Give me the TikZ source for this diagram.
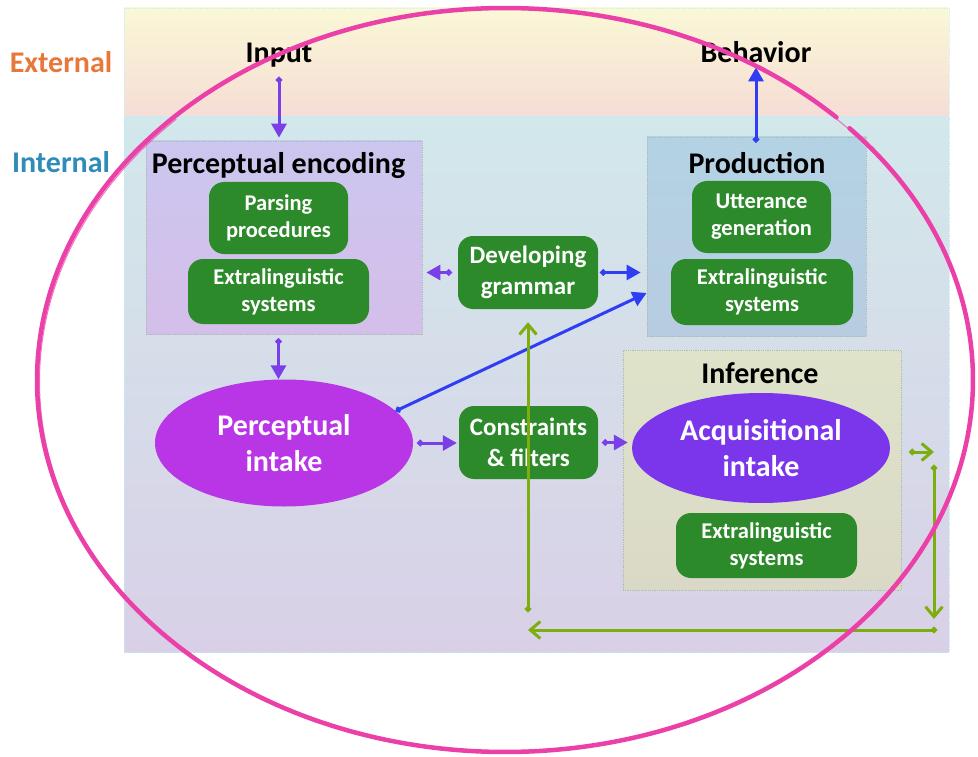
\documentclass[tikz,border=0pt]{standalone}
\usepackage{fontspec}
\setmainfont{Carlito}
\usetikzlibrary{arrows.meta,shapes.geometric,calc}

\definecolor{extTop}{HTML}{FAF8D6}
\definecolor{extBot}{HTML}{F6DDD6}
\definecolor{intTop}{HTML}{D2E8EB}
\definecolor{intMid}{HTML}{D5DBEC}
\definecolor{intBot}{HTML}{D9D0E7}
\definecolor{encTop}{HTML}{CBC7EE}
\definecolor{encBot}{HTML}{D4BEEA}
\definecolor{prodTop}{HTML}{B3D3E4}
\definecolor{prodBot}{HTML}{B8CCE1}
\definecolor{infTop}{HTML}{DFE3C9}
\definecolor{infBot}{HTML}{DAD9C7}
\definecolor{boxGreen}{HTML}{2D8A2B}
\definecolor{pIntake}{HTML}{B836E6}
\definecolor{aIntake}{HTML}{7B36EC}
\definecolor{arrPurple}{HTML}{7B3FE8}
\definecolor{arrBlue}{HTML}{2F3DF4}
\definecolor{arrGreen}{HTML}{7DAE0F}
\definecolor{extText}{HTML}{E8783A}
\definecolor{intText}{HTML}{2F8BB8}
\definecolor{ringPink}{HTML}{EB40A8}
\definecolor{panelEdge}{HTML}{A8BFB4}

\begin{document}
\begin{tikzpicture}[x=1pt,y=-1pt,
  head/.style={font=\bfseries\fontsize{30}{35}\selectfont, inner sep=0pt, anchor=base},
  panel/.style={draw=panelEdge, densely dotted, line width=0.8pt, inner sep=0pt},
  gbox/.style={rounded corners=15pt, fill=boxGreen, text=white, align=center,
    font=\bfseries\fontsize{22.5}{27}\selectfont, inner sep=0pt},
  gboxl/.style={gbox, font=\bfseries\fontsize{25}{31}\selectfont},
  intake/.style={ellipse, text=white, align=center, inner sep=0pt,
    font=\bfseries\fontsize{30}{36}\selectfont},
  parr/.style={draw=arrPurple, line width=3pt,
    {Circle[length=6pt]}-{Triangle[length=14pt,width=15pt]}},
  barr/.style={draw=arrBlue, line width=3pt,
    {Circle[length=6pt]}-{Triangle[length=14pt,width=15pt]}},
  garr/.style={draw=arrGreen, line width=3pt, line cap=round,
    {Circle[length=6pt]}-{Straight Barb[length=10pt,width=17pt,line width=3pt]}},
  ring/.style={draw=ringPink, line width=4.5pt, line cap=round}
]
\useasboundingbox (0,0) rectangle (978,757);
\fill[white] (0,0) rectangle (978,757);

% external and internal bands
\shade[top color=extTop, bottom color=extBot] (124,8) rectangle (949,117);
\shade[top color=intTop, middle color=intMid, bottom color=intBot] (124,117) rectangle (949,652);
\draw[white!80!cyan, densely dotted, line width=0.8pt] (124,8) rectangle (949,117);
\draw[white!75!cyan, densely dotted, line width=0.8pt] (124,117) rectangle (949,652);

\node[anchor=base, inner sep=0pt, text=extText, font=\bfseries\fontsize{30}{35}\selectfont] (extl) at (61,73) {External};
\node[anchor=base, inner sep=0pt, text=intText, font=\bfseries\fontsize{30}{35}\selectfont] (intl) at (61,173) {Internal};

% outer labels
\node[head] (input) at (279,63) {Input};
\node[head] (beh) at (756,63) {Behavior};

% panels
\node[panel, top color=encTop, bottom color=encBot, minimum width=276pt, minimum height=193pt] (enc) at (284,237.5) {};
\node[panel, top color=prodTop, bottom color=prodBot, minimum width=219pt, minimum height=199pt] (prod) at (756.5,236.5) {};
\node[panel, top color=infTop, bottom color=infBot, minimum width=278pt, minimum height=240pt] (inf) at (762,470) {};

\node[head] (encT) at (278.5,174) {Perceptual encoding};
\node[head] (prodT) at (757,174) {Production};
\node[head] (infT) at (760,383) {Inference};

% green boxes
\node[gbox, minimum width=139pt, minimum height=72pt] (parse) at (278.5,218) {Parsing\\procedures};
\node[gbox, minimum width=181pt, minimum height=65pt] (ext1) at (278.5,291.5) {Extralinguistic\\systems};
\node[gbox, minimum width=139pt, minimum height=72pt] (utter) at (761.5,217) {Utterance\\generation};
\node[gbox, minimum width=182pt, minimum height=66pt] (ext2) at (762,292) {Extralinguistic\\systems};
\node[gboxl, minimum width=140pt, minimum height=73pt] (dev) at (528,272.5) {Developing\\grammar};
\node[gboxl, minimum width=139pt, minimum height=73pt] (cons) at (528.5,442.5) {Constraints\\\& filters};
\node[gbox, minimum width=181pt, minimum height=65pt] (ext3) at (766.5,545.5) {Extralinguistic\\systems};

% intake ellipses
\node[intake, fill=pIntake, minimum width=258pt, minimum height=127pt] (pi) at (284,443) {Perceptual\\intake};
\node[intake, fill=aIntake, minimum width=258pt, minimum height=110pt] (ai) at (761,448) {Acquisitional\\intake};

% connectors
\draw[parr, shorten <=9pt, shorten >=3pt] (input.south) -- (input.south |- enc.north);
\draw[barr, shorten <=-6pt, shorten >=4pt] (beh.south |- prod.north) -- (beh.south);
\draw[parr, shorten <=6pt, shorten >=4pt] (dev.west) -- (enc.east |- dev.west);
\draw[barr, shorten <=2pt, shorten >=6pt] (dev.east) -- (prod.west |- dev.east);
\draw[parr, shorten <=4pt, shorten >=0pt] (ext1.south |- enc.south) -- (ext1.south |- pi.north);
\draw[barr, shorten >=0pt] (pi.16) -- ([yshift=-56.5pt]prod.west);
\draw[parr, shorten <=4pt, shorten >=2pt] (pi.east) -- (pi.east -| cons.west);
\draw[parr, shorten <=4pt, shorten >=4pt] (cons.east) -- (cons.east -| ai.west);

% feedback loop
\coordinate (gA) at (934,452);
\coordinate (gB) at (934,465);
\coordinate (gC) at (934,619);
\coordinate (gD) at (937,630);
\coordinate (gE) at (528,630);
\coordinate (gF) at (528,612);
\draw[garr, shorten <=19pt] (ai.east |- gA) -- (gA);
\draw[garr] (gB) -- (gC);
\draw[garr] (gD) -- (gE);
\draw[garr, shorten >=13pt] (gF) -- (dev.south);

% hand-drawn ring
\draw[ring] ([shift={(-42.6:468 and 372)}]505,380)
  arc[start angle=-42.6, end angle=315.1, x radius=468, y radius=372];
\draw[ringPink, line width=1pt, opacity=0.7]
  ([shift={(-45:467 and 371)}]506.5,381.5)
  arc[start angle=-45, end angle=225, x radius=467, y radius=371];
\end{tikzpicture}
\end{document}
